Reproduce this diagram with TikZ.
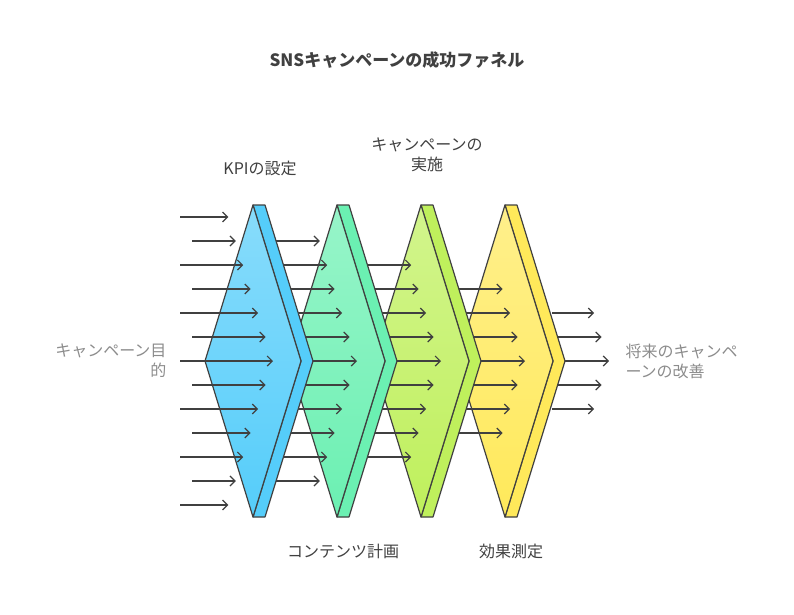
\documentclass[tikz,border=0pt]{standalone}
\usepackage{fontspec}
\setmainfont{Noto Sans CJK JP}
\usetikzlibrary{arrows.meta}

\tikzset{
    stage/.style={draw=black!75, line width=1.2pt, line join=round},
    flow/.style={draw=black!75, line width=1.2pt, -{Straight Barb[length=5pt,width=10pt]}},
    lbl/.style={font=\fontsize{16}{20}\selectfont, text=black!75, align=center},
    side/.style={font=\fontsize{16}{20}\selectfont, text=black!45},
}

\begin{document}
\begin{tikzpicture}[x=1pt, y=-1pt]
    \useasboundingbox (0,0) rectangle (794,614);

    % colours of the four stages
    \definecolor{c1}{HTML}{55CDFA}
    \definecolor{c2}{HTML}{6BF0B2}
    \definecolor{c3}{HTML}{BFF05C}
    \definecolor{c4}{HTML}{FFE95A}

    % arrows leaving the last stage
    \foreach \y in {313,337,...,409} {
        \pgfmathsetmacro{\xe}{609-abs(\y-361)*0.31}
        \coordinate (e\y) at (\xe,\y);
        \draw [flow] (552,\y) -- (e\y);
    }

    % stages, right to left, each with the arrows going into it
    \foreach \k/\col/\n in {3/c4/7,2/c3/9,1/c2/11,0/c1/13} {
        \pgfmathsetmacro{\dx}{84*\k}
        \begin{scope}[xshift=\dx]
            \coordinate (T) at (253,205);
            \coordinate (B) at (253,517);
            \coordinate (L) at (205,361);
            \coordinate (R) at (301,361);
            \draw [stage, fill=\col] (T) -- ++(12,0) -- (313,361) -- (265,517) -- (B) -- (R) -- cycle;
            \draw [stage, top color=\col!70!white, bottom color=\col] (L) -- (T) -- (R) -- (B) -- cycle;
        \end{scope}
        \pgfmathtruncatemacro{\ya}{361-12*(\n-1)}
        \pgfmathtruncatemacro{\yb}{\ya+24}
        \pgfmathtruncatemacro{\yc}{361+12*(\n-1)}
        \foreach \y [count=\i] in {\ya,\yb,...,\yc} {
            \pgfmathsetmacro{\xs}{\k==0 ? (mod(\i,2)==1 ? 180 : 192) : 192+\dx}
            \pgfmathsetmacro{\xe}{273+\dx-abs(\y-361)*0.31}
            \coordinate (s\k-\i) at (\xs,\y);
            \coordinate (t\k-\i) at (\xe,\y);
            \draw [flow] (s\k-\i) -- (t\k-\i);
        }
    }

    \node [font=\bfseries\fontsize{17}{20}\selectfont, text=black!75] (title) at (397,60) {SNSキャンペーンの成功ファネル};
    \node [lbl] (kpi) at (260,168) {KPIの設定};
    \node [lbl] (run) at (427,155) {キャンペーンの\\実施};
    \node [lbl] (plan) at (343,551) {コンテンツ計画};
    \node [lbl] (eval) at (511,551) {効果測定};
    \node [side, align=right, anchor=east] (goal) at (170,361) {キャンペーン目\\的};
    \node [side, align=left, anchor=west] (next) at (622,361) {将来のキャンペ\\ーンの改善};
\end{tikzpicture}
\end{document}
